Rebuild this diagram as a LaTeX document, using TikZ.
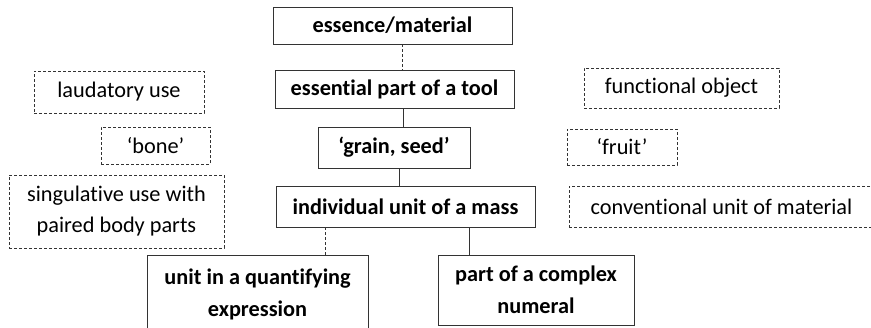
\documentclass[tikz,border=0pt]{standalone}
\usepackage{fontspec}
\setmainfont{Carlito}[Ligatures=NoCommon]

\begin{document}
\begin{tikzpicture}[
    x=1pt, y=-1pt,
    sense/.style={draw=black!80, line width=0.8pt, align=center, inner sep=0pt,
      font=\fontsize{22.3}{32}\selectfont\bfseries},
    usage/.style={draw=black!80, line width=0.7pt, dash pattern=on 3pt off 2pt,
      align=center, inner sep=0pt, font=\fontsize{22.3}{31}\selectfont},
    link/.style={black!80, line width=0.8pt},
    loose/.style={link, dash pattern=on 3pt off 2pt},
  ]
    \useasboundingbox (0,0) rectangle (871,327);
    \clip (0,0) rectangle (871,327);

    % main chain
    \node[sense, minimum width=239, minimum height=37] (essence) at (392.5,25.5) {essence/material};
    \node[sense, minimum width=239, minimum height=38] (tool) at (394.5,89) {essential part of a tool};
    \node[sense, minimum width=152, minimum height=41] (grain) at (394,147.5) {‘grain, seed’};
    \node[sense, minimum width=259, minimum height=41] (mass) at (405.5,206.5) {individual unit of a mass};
    \node[sense, minimum width=221, minimum height=77] (quant) at (257.5,294) {unit in a quantifying\\expression};
    \node[sense, minimum width=196, minimum height=70] (numeral) at (536,290) {part of a complex\\numeral};

    % side uses
    \node[usage, minimum width=170, minimum height=42] (laud) at (119,92) {laudatory use};
    \node[usage, minimum width=109, minimum height=37] (bone) at (155.5,145.5) {‘bone’};
    \node[usage, minimum width=215, minimum height=73] (sing) at (116.5,211.5) {singulative use with\\paired body parts};
    \node[usage, minimum width=195, minimum height=40] (func) at (681.5,88) {functional object};
    \node[usage, minimum width=110, minimum height=36] (fruit) at (622,147) {‘fruit’};
    \node[usage, minimum width=305, minimum height=41] (conv) at (721.5,206.5) {conventional unit of material};

    \coordinate (c1) at (402,0);
    \coordinate (c2) at (403,0);
    \coordinate (c3) at (399,0);
    \coordinate (c4) at (325,0);
    \coordinate (c5) at (469,0);

    \draw[loose] (essence.south -| c1) -- (tool.north -| c1);
    \draw[link] (tool.south -| c2) -- (grain.north -| c2);
    \draw[link] (grain.south -| c3) -- (mass.north -| c3);
    \draw[loose] (mass.south -| c4) -- (quant.north -| c4);
    \draw[link] (mass.south -| c5) -- (numeral.north -| c5);
  \end{tikzpicture}
\end{document}
